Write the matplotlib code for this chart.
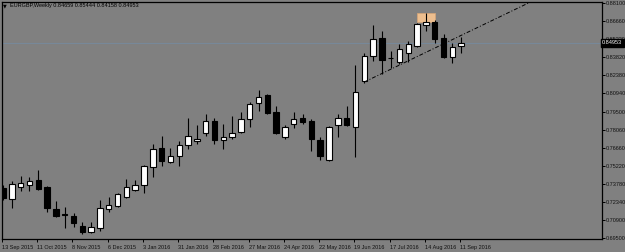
import matplotlib
matplotlib.use("Agg")
import matplotlib.pyplot as plt
from matplotlib.patches import Rectangle

# ---- data (EURGBP weekly candles, 13 Sep 2015 .. 11 Sep 2016) ----
opens = [0.73458, 0.72587, 0.73537, 0.73695, 0.74091, 0.73537, 0.71795, 0.71400, 0.71241, 0.70450,
         0.69975, 0.70292, 0.71795, 0.72033, 0.72745, 0.73299, 0.73695, 0.75120, 0.76624, 0.75515,
         0.75990, 0.76861, 0.77178, 0.77811, 0.78761, 0.77257, 0.77494, 0.77890, 0.78919, 0.80185,
         0.80818, 0.79473, 0.77494, 0.78523, 0.78998, 0.78761, 0.77257, 0.75674, 0.78444, 0.78998,
         0.78286, 0.81927, 0.83905, 0.85330, 0.83747, 0.83430, 0.84143, 0.84697, 0.86359, 0.86596,
         0.85330, 0.83826, 0.84659]
highs = [0.73695, 0.74012, 0.74407, 0.74328, 0.74882, 0.73616, 0.72429, 0.71954, 0.71479, 0.70766,
         0.70766, 0.72508, 0.72745, 0.73062, 0.74170, 0.74091, 0.75278, 0.76940, 0.77573, 0.76624,
         0.77178, 0.78998, 0.78444, 0.79315, 0.78998, 0.78523, 0.79156, 0.79473, 0.80264, 0.81214,
         0.80898, 0.79948, 0.78444, 0.79473, 0.79315, 0.78919, 0.77494, 0.78365, 0.79315, 0.79948,
         0.83193, 0.84143, 0.86359, 0.85884, 0.84301, 0.84855, 0.85093, 0.86517, 0.87309, 0.86755,
         0.85647, 0.84934, 0.85444]
lows = [0.72508, 0.71875, 0.73220, 0.73220, 0.73299, 0.71558, 0.71162, 0.70292, 0.70371, 0.69817,
        0.69896, 0.70054, 0.71558, 0.71954, 0.72666, 0.73220, 0.73062, 0.74328, 0.75199, 0.75436,
        0.75199, 0.76544, 0.76940, 0.77573, 0.76940, 0.76544, 0.77336, 0.77811, 0.78286, 0.79552,
        0.79315, 0.77732, 0.77336, 0.78207, 0.78523, 0.76386, 0.75674, 0.75594, 0.77494, 0.78365,
        0.75911, 0.81768, 0.83510, 0.82481, 0.82956, 0.83272, 0.83430, 0.84618, 0.85884, 0.84934,
        0.83747, 0.83351, 0.84158]
closes = [0.72666, 0.73774, 0.73853, 0.74012, 0.73378, 0.71875, 0.71241, 0.71320, 0.70687, 0.69975,
          0.70371, 0.71875, 0.72112, 0.72983, 0.73537, 0.73695, 0.75199, 0.76544, 0.75595, 0.75990,
          0.76861, 0.77573, 0.77336, 0.78761, 0.77257, 0.77494, 0.77811, 0.78919, 0.80106, 0.80660,
          0.79394, 0.77811, 0.78286, 0.78919, 0.78681, 0.77336, 0.75990, 0.78286, 0.78998, 0.78444,
          0.81056, 0.83905, 0.85251, 0.83589, 0.83720, 0.84459, 0.84855, 0.86438, 0.86596, 0.85251,
          0.83826, 0.84618, 0.84953]

date_tick_bars = [0, 4, 8, 12, 16, 20, 24, 28, 32, 36, 40, 44, 48, 52]
date_tick_labels = ["13 Sep 2015", "11 Oct 2015", "8 Nov 2015", "6 Dec 2015", "3 Jan 2016",
                    "31 Jan 2016", "28 Feb 2016", "27 Mar 2016", "24 Apr 2016", "22 May 2016",
                    "19 Jun 2016", "17 Jul 2016", "14 Aug 2016", "11 Sep 2016"]
price_ticks = [0.69500, 0.70900, 0.72340, 0.73780, 0.75220, 0.76660, 0.78060, 0.79500,
               0.80940, 0.82380, 0.83820, 0.85220, 0.86660, 0.88100]

symbol_title = "EURGBP,Weekly"
current_price = closes[-1]

# trend line anchors (bar index, price)
trend_x = [41.0, 58.7]
trend_y = [0.81847, 0.87784]

BG = "#808080"
FONT = "Liberation Sans"
FS = 4.0

W, H = 625, 252
fig = plt.figure(figsize=(W / 100, H / 100), dpi=100, facecolor=BG)
ax = fig.add_axes([2 / W, 13 / H, 600 / W, 237 / H])
ax.set_facecolor(BG)

ax.set_xlim(-0.114, 67.99)
ax.set_ylim(0.69421, 0.88179)

# highlight boxes
for bx in (47.0, 48.0):
    ax.add_patch(Rectangle((bx, 0.8660), 1.0, 0.0071, facecolor="#EDBE8E",
                           edgecolor="#D8A676", lw=0.5, zorder=1))

# current price line
ax.axhline(current_price, color="#778899", lw=0.8, zorder=1)

# candles
bw = 0.62
for i, (o, h, l, c) in enumerate(zip(opens, highs, lows, closes)):
    ax.vlines(i, l, h, color="black", lw=0.8, zorder=2)
    bottom = min(o, c)
    height = max(abs(c - o), 0.00005)
    fc = "white" if c >= o else "black"
    ax.add_patch(Rectangle((i - bw / 2, bottom), bw, height, facecolor=fc,
                           edgecolor="black", lw=0.8, zorder=3))

# trend line (ray to the right)
slope = (trend_y[1] - trend_y[0]) / (trend_x[1] - trend_x[0])
x_end = 68.0
ax.plot([trend_x[0], x_end], [trend_y[0], trend_y[0] + slope * (x_end - trend_x[0])],
        color="black", lw=0.7, linestyle=(0, (4, 2, 1, 2)), zorder=4)

# axes styling
for s in ax.spines.values():
    s.set_color("black")
    s.set_linewidth(0.9)

ax.yaxis.tick_right()
ax.set_yticks(price_ticks)
ax.set_yticklabels([f"{p:.5f}" for p in price_ticks], fontsize=FS, family=FONT, color="#111111")
ax.tick_params(axis="y", length=2, width=0.7, pad=0.6, color="black")

ax.set_xticks([b - 0.12 for b in date_tick_bars])
ax.set_xticklabels(date_tick_labels, fontsize=FS, family=FONT, color="#111111", ha="left")
ax.tick_params(axis="x", length=2, width=0.7, pad=2, color="black")

# current price label
ax.text(1.0, current_price, f"{current_price:.5f}", transform=ax.get_yaxis_transform(),
        fontsize=FS, family=FONT, color="white", va="center", ha="left", zorder=10,
        bbox=dict(boxstyle="square,pad=0.25", facecolor="black", edgecolor="black"))

# header
fig.text(3 / W, 1 - 6 / H, "\u25BC", fontsize=3.5, family="DejaVu Sans", color="black",
         va="center", ha="left")
fig.text(10 / W, 1 - 6 / H,
         f"{symbol_title} {opens[-1]:.5f} {highs[-1]:.5f} {lows[-1]:.5f} {closes[-1]:.5f}",
         fontsize=FS, family=FONT, color="black", va="center", ha="left")

fig.savefig("out.png", dpi=100, facecolor=BG)
